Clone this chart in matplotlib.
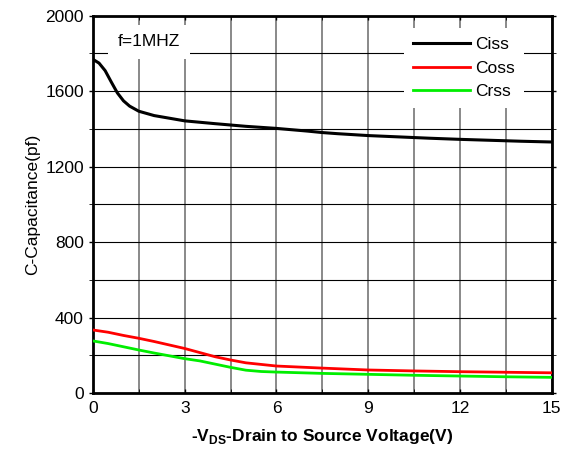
import matplotlib
matplotlib.use('Agg')
import matplotlib.pyplot as plt
from matplotlib.ticker import MultipleLocator

plt.rcParams['font.family'] = ['Liberation Sans', 'DejaVu Sans']
plt.rcParams['mathtext.fontset'] = 'custom'
plt.rcParams['mathtext.rm'] = 'Liberation Sans'
plt.rcParams['mathtext.bf'] = 'Liberation Sans:bold'

# data
ciss_v = [0, 0.2, 0.4, 0.6, 0.8, 1.0, 1.2, 1.5, 2, 3, 4, 4.5, 5, 6, 7, 7.5, 8, 9, 10, 11, 12, 13, 14, 15]
ciss = [1768, 1748, 1708, 1648, 1590, 1548, 1520, 1493, 1470, 1442, 1427, 1420, 1413, 1402, 1388, 1380, 1374, 1364, 1357, 1350, 1344, 1339, 1334, 1330]

coss_v = [0, 0.5, 1, 1.5, 2, 3, 3.5, 4, 4.5, 5, 6, 7.5, 9, 10.5, 12, 13.5, 15]
coss = [334, 322, 305, 290, 273, 236, 214, 192, 175, 160, 143, 132, 122, 117, 113, 110, 107]

crss_v = [0, 0.5, 1, 1.5, 2, 3, 3.5, 4, 4.5, 5, 5.5, 6, 7.5, 9, 10.5, 12, 13.5, 15]
crss = [276, 262, 245, 228, 212, 182, 170, 153, 136, 121, 114, 111, 104, 99, 94, 90, 86, 83]

xticks = [0, 3, 6, 9, 12, 15]
yticks = [0, 400, 800, 1200, 1600, 2000]


def plot_caps():
    fig = plt.figure(figsize=(5.7, 4.57), dpi=100)
    ax = fig.add_axes([0.163, 0.140, 0.805, 0.826])

    ax.plot(ciss_v, ciss, color='black', lw=2.2, label='Ciss', zorder=3)
    ax.plot(coss_v, coss, color='#ff0000', lw=2.0, label='Coss', zorder=3)
    ax.plot(crss_v, crss, color='#00ee00', lw=2.0, label='Crss', zorder=3)

    ax.set_xlim(0, 15)
    ax.set_ylim(0, 2000)
    ax.set_xticks(xticks)
    ax.set_yticks(yticks)
    ax.xaxis.set_minor_locator(MultipleLocator(1.5))
    ax.yaxis.set_minor_locator(MultipleLocator(200))

    ax.grid(True, which='both', axis='y', color='black', lw=0.8)
    ax.grid(True, which='both', axis='x', color='#808080', lw=1.3)
    ax.set_axisbelow(True)

    ax.tick_params(axis='both', which='major', labelsize=12.5, length=4, width=1)
    ax.tick_params(axis='x', which='both', top=True, direction='in', length=3, pad=6)
    ax.tick_params(axis='y', which='both', right=True, length=3)
    for s in ax.spines.values():
        s.set_linewidth(2)

    ax.text(0.82, 1860, 'f=1MHZ', fontsize=12.5, va='center', ha='left',
            bbox=dict(facecolor='white', edgecolor='none', pad=7), zorder=2)

    leg = ax.legend(loc='upper left', bbox_to_anchor=(0.66, 0.99), fontsize=12.5,
                    frameon=True, fancybox=False, edgecolor='none', facecolor='white',
                    framealpha=1, handlelength=3.3, handletextpad=0.3,
                    labelspacing=0.5, borderpad=0.5)
    leg.set_zorder(2)

    ax.set_ylabel('C-Capacitance(pf)', fontsize=12.5, labelpad=4)
    ax.set_xlabel(r'-V$_\mathbf{DS}$-Drain to Source Voltage(V)', fontsize=12.5,
                  fontweight='bold', labelpad=8)

    fig.savefig('out.png', dpi=100)


if __name__ == '__main__':
    plot_caps()
